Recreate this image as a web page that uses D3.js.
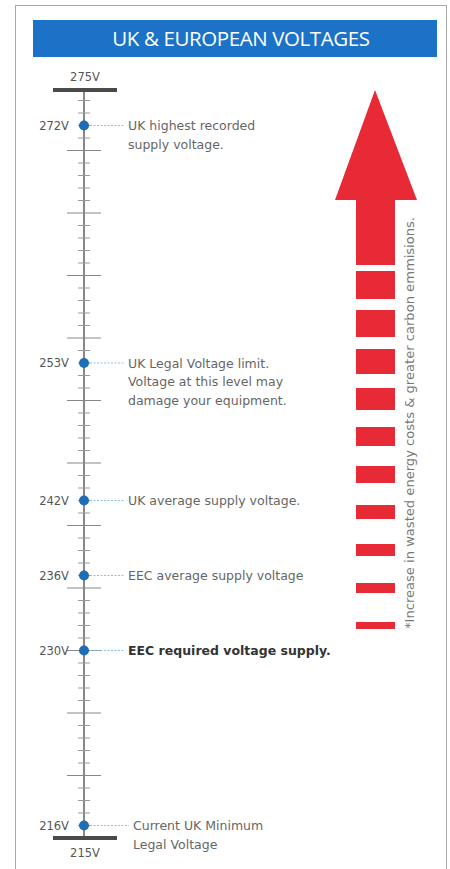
<!DOCTYPE html>
<html>
<head>
<meta charset="utf-8">
<script src="https://cdn.jsdelivr.net/npm/d3@7"></script>
<style>
  body { margin: 0; background: #fff; }
  svg { display: block; }
</style>
</head>
<body>
<svg id="chart" width="450" height="869"></svg>
<script>
// data
var title = "UK & EUROPEAN VOLTAGES";
var domainV = [215, 275];
var markVolts = [272, 253, 242, 236, 230, 216];
var markNotes = [
    ["UK highest recorded", "supply voltage."],
    ["UK Legal Voltage limit.", "Voltage at this level may", "damage your equipment."],
    ["UK average supply voltage."],
    ["EEC average supply voltage"],
    ["EEC required voltage supply."],
    ["Current UK Minimum", "Legal Voltage"]
];
var boldNote = [false, false, false, false, true, false];
var dashSizes = [28, 27, 25, 22, 19, 17, 14, 12, 10, 7];
var sideNote = "*Increase in wasted energy costs & greater carbon emmisions.";

var svg = d3.select("#chart"),
    axisX = 84;

// frame
svg.append("rect")
    .attr("x", 15.5).attr("y", 5.5)
    .attr("width", 431).attr("height", 880)
    .attr("fill", "none")
    .attr("stroke", "#a8a8a8");

// title bar
svg.append("rect")
    .attr("x", 33).attr("y", 20)
    .attr("width", 404).attr("height", 37)
    .attr("fill", "#1b72c6");
svg.append("text")
    .attr("x", 241).attr("y", 46)
    .attr("text-anchor", "middle")
    .attr("fill", "#fff")
    .style("font-family", "'Open Sans', sans-serif")
    .style("font-size", "20.5px")
    .style("letter-spacing", "-0.4px")
    .text(title);

var y = d3.scaleLinear().domain(domainV).range([838, 88]);

// vertical axis
svg.append("line")
    .attr("x1", axisX).attr("x2", axisX)
    .attr("y1", y(275)).attr("y2", y(215))
    .attr("stroke", "#555")
    .attr("stroke-width", 1.4);

var ticks = d3.range(216, 275);
svg.append("g").selectAll("line")
    .data(ticks)
    .enter().append("line")
    .attr("x1", function (d) { return axisX - (d % 5 === 0 ? 17 : 6); })
    .attr("x2", function (d) { return axisX + (d % 5 === 0 ? 17 : 6); })
    .attr("y1", function (d) { return y(d); })
    .attr("y2", function (d) { return y(d); })
    .attr("stroke", function (d) { return d % 5 === 0 ? "#888" : "#999"; })
    .attr("stroke-width", 1);

// end bars
svg.append("g").selectAll("line")
    .data(domainV)
    .enter().append("line")
    .attr("x1", axisX - 31).attr("x2", axisX + 33)
    .attr("y1", function (d) { return d === 275 ? y(d) + 2 : y(d); })
    .attr("y2", function (d) { return d === 275 ? y(d) + 2 : y(d); })
    .attr("stroke", "#4a4a4a")
    .attr("stroke-width", 4);

svg.append("g").selectAll("text")
    .data(domainV)
    .enter().append("text")
    .attr("x", axisX + 1)
    .attr("y", function (d) { return d === 275 ? y(d) - 7 : y(d) + 19; })
    .attr("text-anchor", "middle")
    .attr("fill", "#555")
    .style("font-family", "'DejaVu Sans', sans-serif")
    .style("font-size", "11.5px")
    .text(function (d) { return d + "V"; });

// marked voltages
var marks = svg.append("g").selectAll("g")
    .data(markVolts)
    .enter().append("g");

marks.append("line")
    .attr("x1", axisX + 6)
    .attr("x2", function (d, i) { return i === 5 ? 129 : 125; })
    .attr("y1", function (d) { return y(d); })
    .attr("y2", function (d) { return y(d); })
    .attr("stroke", "#8cbde6")
    .attr("stroke-width", 1)
    .attr("stroke-dasharray", "2,1.5");

marks.append("circle")
    .attr("cx", axisX)
    .attr("cy", function (d) { return y(d); })
    .attr("r", 5)
    .attr("fill", "#1f6db4");

marks.append("text")
    .attr("x", 69)
    .attr("y", function (d) { return y(d) + 4; })
    .attr("text-anchor", "end")
    .attr("fill", "#555")
    .style("font-family", "'DejaVu Sans', sans-serif")
    .style("font-size", "11.5px")
    .text(function (d) { return d + "V"; });

marks.append("text")
    .attr("x", function (d, i) { return i === 5 ? 133 : 128; })
    .attr("y", function (d) { return y(d) + 4.5; })
    .attr("fill", function (d, i) { return boldNote[i] ? "#333" : "#666"; })
    .style("font-family", "'DejaVu Sans', sans-serif")
    .style("font-size", "12.5px")
    .style("font-weight", function (d, i) { return boldNote[i] ? "bold" : "normal"; })
    .each(function (d, i) {
        d3.select(this).selectAll("tspan")
            .data(markNotes[i])
            .enter().append("tspan")
            .attr("x", i === 5 ? 133 : 128)
            .attr("dy", function (t, j) { return j === 0 ? 0 : 18.5; })
            .text(function (t) { return t; });
    });

// red arrow
var red = "#e72a35";
svg.append("path")
    .attr("d", "M375,90 L417,200 L395,200 L395,265 L356,265 L356,200 L335,200 Z")
    .attr("fill", red);

var dashY = d3.scaleLinear().domain([0, dashSizes.length - 1]).range([271, 622]);
svg.append("g").selectAll("rect")
    .data(dashSizes)
    .enter().append("rect")
    .attr("x", 356)
    .attr("width", 39)
    .attr("y", function (d, i) { return dashY(i); })
    .attr("height", function (d) { return d; })
    .attr("fill", red);

svg.append("text")
    .attr("transform", "translate(414,629) rotate(-90)")
    .attr("fill", "#777")
    .attr("textLength", 412)
    .attr("lengthAdjust", "spacingAndGlyphs")
    .style("font-family", "'DejaVu Sans', sans-serif")
    .style("font-size", "12.5px")
    .text(sideNote);
</script>
</body>
</html>
